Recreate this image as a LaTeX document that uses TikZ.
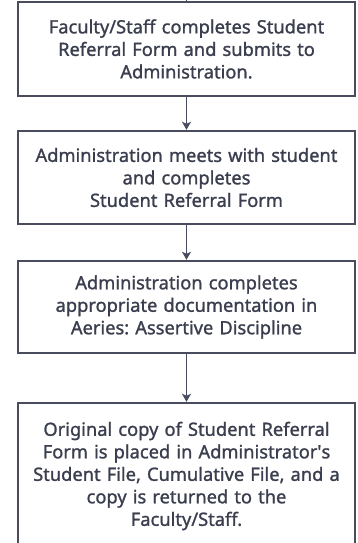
\documentclass[tikz,border=0pt]{standalone}
\usepackage{fontspec}
\setmainfont{Noto Sans}[FakeBold=1.2]
\usetikzlibrary{arrows.meta}
\definecolor{ink}{RGB}{58,62,78}
\definecolor{edge}{RGB}{72,76,92}
\tikzset{
  stepbox/.style={draw=edge, line width=2.4pt, fill=white, text=ink,
    minimum width=337pt, text width=334pt, align=center, inner sep=0pt,
    font=\fontsize{18.3pt}{22.5pt}\selectfont\bfseries\frenchspacing},
  flow/.style={draw=edge, line width=1.7pt, -{Stealth[length=8pt,width=9pt,inset=2pt]}},
}
\begin{document}
\begin{tikzpicture}[x=1pt,y=-1pt]
\useasboundingbox (0,0) rectangle (358,543);
\clip (0,0) rectangle (358,543);
\coordinate (top) at (186.5,-10);
\node[stepbox, minimum height=94pt] (b1) at (186.5,49)
  {Faculty/Staff completes Student\\Referral Form and submits to\\Administration.};
\node[stepbox, minimum height=93pt] (b2) at (186.5,177.5)
  {Administration meets with student\\and completes\\Student Referral Form};
\node[stepbox, minimum height=92pt] (b3) at (186.5,307)
  {Administration completes\\appropriate documentation in\\Aeries: Assertive Discipline};
\node[stepbox, minimum height=146pt] (b4) at (186.5,476)
  {Original copy of Student Referral\\Form is placed in Administrator\textquotesingle s\\Student File, Cumulative File, and a\\copy is returned to the\\Faculty/Staff.};
\draw[draw=edge, line width=1.7pt] (top) -- (b1);
\draw[flow] (b1) -- (b2);
\draw[flow] (b2) -- (b3);
\draw[flow] (b3) -- (b4);
\end{tikzpicture}
\end{document}
